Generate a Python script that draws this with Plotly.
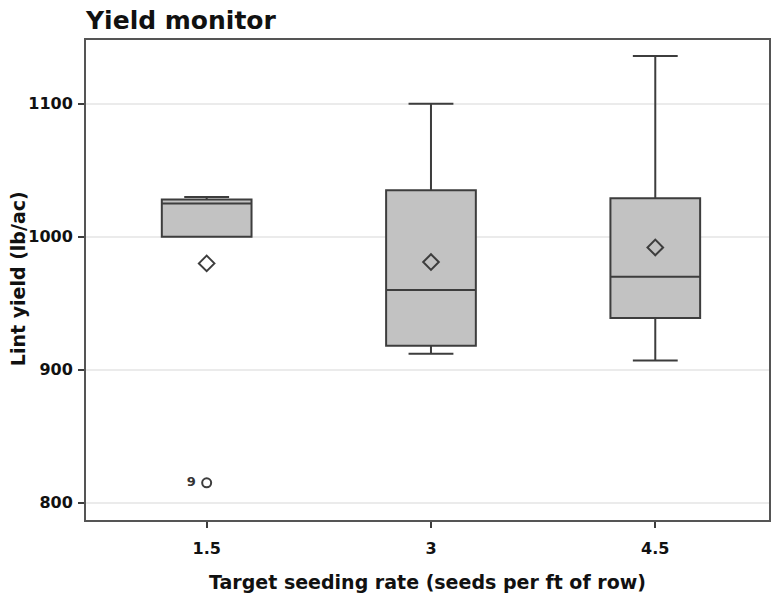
import plotly.graph_objects as go

# Seeding-rate groups and their yield summaries (lb/ac)
rates = ["1.5", "3", "4.5"]
q1 = [1000, 918, 939]
median = [1025, 960, 970]
q3 = [1028, 1035, 1029]
lower_whisker = [1000, 912, 907]
upper_whisker = [1030, 1100, 1136]
means = [980, 981, 992]

# Outlying observations: group index, value, observation label
outlier_group = [0]
outlier_value = [815]
outlier_label = ["9"]

# Y-axis ticks
y_ticks = [800, 900, 1000, 1100]

positions = list(range(len(rates)))
line_col = "#3d3d3d"
fill_col = "#c2c2c2"
font_family = "DejaVu Sans, Arial"

fig = go.Figure()

fig.add_trace(go.Box(
    x=positions,
    q1=q1, median=median, q3=q3,
    lowerfence=lower_whisker, upperfence=upper_whisker,
    width=0.4,
    whiskerwidth=0.5,
    fillcolor=fill_col,
    line=dict(color=line_col, width=2),
    boxpoints=False,
    hoverinfo="skip",
    showlegend=False,
))

fig.add_trace(go.Scatter(
    x=positions, y=means,
    mode="markers",
    marker=dict(symbol="diamond-open", size=12, color=line_col, line=dict(width=2, color=line_col)),
    showlegend=False,
))

fig.add_trace(go.Scatter(
    x=outlier_group, y=outlier_value,
    mode="markers+text",
    text=["<b>%s</b> " % t for t in outlier_label],
    textposition="middle left",
    textfont=dict(family=font_family, size=13, color="#333333"),
    marker=dict(symbol="circle-open", size=9, color=line_col, line=dict(width=2, color=line_col)),
    showlegend=False,
))

tick_font = dict(family=font_family, size=16, color="#111111")
title_font = dict(family=font_family, size=19, color="#111111")

fig.update_layout(
    width=771, height=597,
    margin=dict(l=86, r=0, t=40, b=77),
    paper_bgcolor="white",
    plot_bgcolor="white",
    title=dict(
        text="<b>Yield monitor</b>",
        x=86 / 771, xanchor="left", xref="container",
        y=1 - 11 / 597, yanchor="top", yref="container",
        font=dict(family=font_family, size=25, color="#111111"),
    ),
    xaxis=dict(
        range=[-0.538, 2.507],
        tickvals=positions,
        ticktext=["<b>%s</b>" % r for r in rates],
        tickfont=tick_font,
        ticks="outside", ticklen=6, tickwidth=1.5, tickcolor=line_col,
        ticklabelstandoff=7,
        showline=True, linecolor="#555555", linewidth=2, mirror=True,
        showgrid=False, zeroline=False,
        title=dict(text="<b>Target seeding rate (seeds per ft of row)</b>",
                   font=title_font, standoff=18),
    ),
    yaxis=dict(
        range=[787, 1148],
        tickvals=y_ticks,
        ticktext=["<b>%d</b>" % v for v in y_ticks],
        tickfont=tick_font,
        ticks="outside", ticklen=6, tickwidth=1.5, tickcolor=line_col,
        ticklabelstandoff=2,
        showline=True, linecolor="#555555", linewidth=2, mirror=True,
        showgrid=True, gridcolor="#ebebeb", gridwidth=1.5,
        zeroline=False,
    ),
    annotations=[dict(
        text="<b>Lint yield (lb/ac)</b>",
        textangle=-90,
        xref="paper", yref="paper",
        x=(18 - 86) / 685, y=(520 - 279) / 480,
        xanchor="center", yanchor="middle",
        showarrow=False,
        font=title_font,
    )],
)

fig.write_html("out.html")
